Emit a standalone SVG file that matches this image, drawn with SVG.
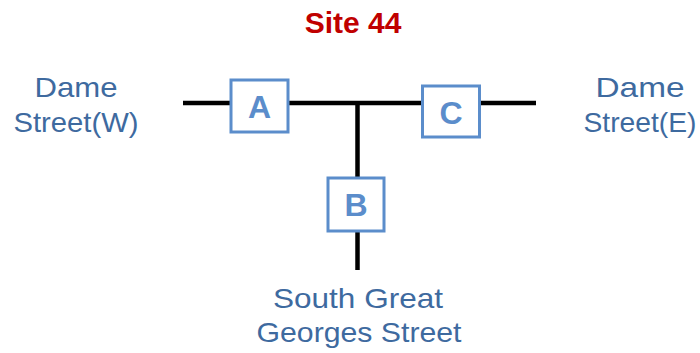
<svg xmlns="http://www.w3.org/2000/svg" width="700" height="353" viewBox="0 0 700 353">
<style>
.road{stroke:#000;stroke-width:4.5;fill:none}
.box{fill:#fff;stroke:#5B8DCB;stroke-width:3}
.letter{font-family:"Liberation Sans",Arial,sans-serif;font-weight:bold;font-size:32px;fill:#5B8DCB;text-anchor:middle}
.lbl{font-family:"Liberation Sans",Arial,sans-serif;font-size:28px;fill:#3E6A9F;text-anchor:middle}
.title{font-family:"Liberation Sans",Arial,sans-serif;font-weight:bold;font-size:30px;fill:#C00000;text-anchor:middle}
</style>
<rect width="700" height="353" fill="#fff"/>
<text class="title" x="353" y="33">Site 44</text>
<g id="connectors">
<line class="road" x1="183" y1="103" x2="536" y2="103"/>
<line class="road" x1="357.5" y1="103" x2="357.5" y2="270"/>
</g>
<g id="A">
<rect class="box" x="231" y="80" width="57" height="52"/>
<text class="letter" x="259.5" y="118">A</text>
</g>
<g id="C">
<rect class="box" x="422.5" y="86" width="57" height="51"/>
<text class="letter" x="451" y="124">C</text>
</g>
<g id="B">
<rect class="box" x="328" y="178" width="56" height="53"/>
<text class="letter" x="356" y="216">B</text>
</g>
<g id="west">
<text class="lbl" x="76" y="97" textLength="83" lengthAdjust="spacingAndGlyphs">Dame</text>
<text class="lbl" x="76" y="132" textLength="125" lengthAdjust="spacingAndGlyphs">Street(W)</text>
</g>
<g id="east">
<text class="lbl" x="640" y="97" textLength="89" lengthAdjust="spacingAndGlyphs">Dame</text>
<text class="lbl" x="640" y="132" textLength="113" lengthAdjust="spacingAndGlyphs">Street(E)</text>
</g>
<g id="south">
<text class="lbl" x="358" y="308" textLength="170" lengthAdjust="spacingAndGlyphs">South Great</text>
<text class="lbl" x="359" y="342" textLength="205" lengthAdjust="spacingAndGlyphs">Georges Street</text>
</g>
</svg>
